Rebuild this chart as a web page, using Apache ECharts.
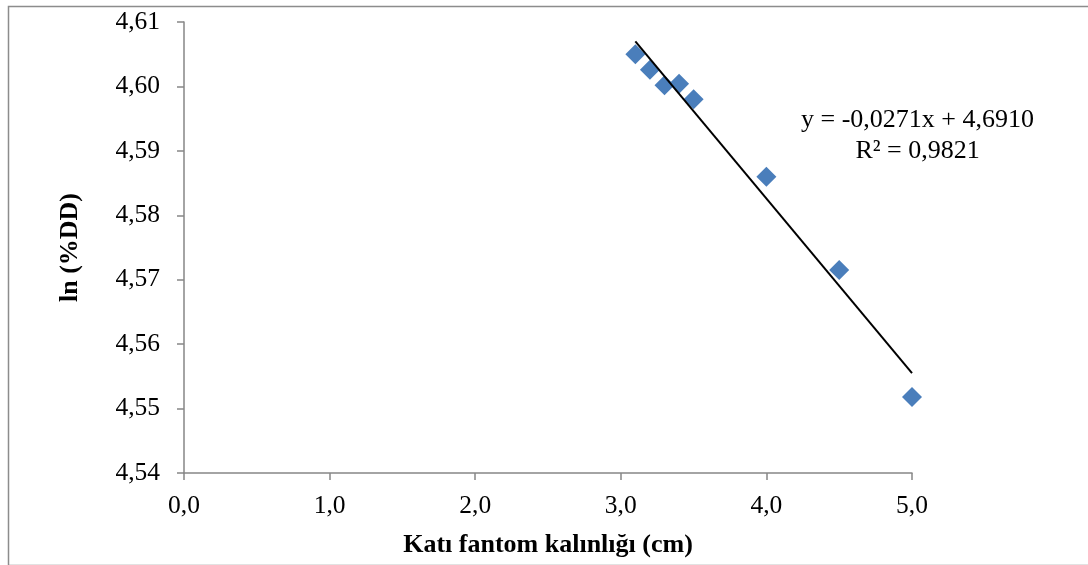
<!DOCTYPE html>
<html>
<head>
<meta charset="utf-8">
<script src="https://cdn.jsdelivr.net/npm/echarts@6/dist/echarts.min.js"></script>
<style>
html,body{margin:0;padding:0;background:#fff;}
#c{width:1088px;height:565px;}
</style>
</head>
<body>
<div id="c"></div>
<script>
const xValues = [3.1, 3.2, 3.3, 3.4, 3.5, 4.0, 4.5, 5.0];
const yValues = [4.6050, 4.6026, 4.6002, 4.6004, 4.5980, 4.5860, 4.5715, 4.5518];
const trendSlope = -0.0271;
const trendIntercept = 4.6910;
const trendRange = [3.1, 5.0];
const equationText = ['y = -0,0271x + 4,6910', 'R² = 0,9821'];
const xTitle = 'Katı fantom kalınlığı (cm)';
const yTitle = 'ln (%DD)';

const points = xValues.map((x, i) => [x, yValues[i]]);
const trend = trendRange.map(x => [x, trendSlope * x + trendIntercept]);

const chart = echarts.init(document.getElementById('c'), null, {renderer: 'canvas'});
const font = '"Liberation Serif", "Times New Roman", serif';
const axisColor = '#868686';

const border = {
  type: 'rect',
  left: 6, top: 4,
  shape: {x: 0, y: 0, width: 1100, height: 559},
  style: {fill: 'none', stroke: '#8c8c8c', lineWidth: 1.5},
  silent: true
};

chart.setOption({
  animation: false,
  backgroundColor: '#fff',
  graphic: [border],
  grid: {left: 184, top: 22, right: 176, bottom: 92, containLabel: false},
  xAxis: {
    type: 'value', min: 0, max: 5, interval: 1,
    name: xTitle, nameLocation: 'middle', nameGap: 59,
    nameTextStyle: {fontFamily: font, fontSize: 26, fontWeight: 'bold', color: '#000'},
    axisLine: {show: true, onZero: false, lineStyle: {color: axisColor, width: 1.5}},
    axisTick: {show: true, length: 7, lineStyle: {color: axisColor, width: 1.5}},
    axisLabel: {fontFamily: font, fontSize: 25.5, color: '#000', margin: 20,
      formatter: v => v.toFixed(1).replace('.', ',')},
    splitLine: {show: false}
  },
  yAxis: {
    type: 'value', min: 4.54, max: 4.61, interval: 0.01,
    name: yTitle, nameLocation: 'middle', nameGap: 101, nameRotate: 90,
    nameTextStyle: {fontFamily: font, fontSize: 26, fontWeight: 'bold', color: '#000'},
    axisLine: {show: true, lineStyle: {color: axisColor, width: 1.5}},
    axisTick: {show: true, length: 7, lineStyle: {color: axisColor, width: 1.5}},
    axisLabel: {fontFamily: font, fontSize: 25.5, color: '#000', margin: 24,
      formatter: v => v.toFixed(2).replace('.', ',')},
    splitLine: {show: false}
  },
  series: [
    {
      type: 'line', data: trend, symbol: 'none',
      lineStyle: {color: '#000', width: 2}, z: 3, silent: true
    },
    {
      type: 'scatter', data: points, symbol: 'diamond', symbolSize: [20, 20],
      itemStyle: {color: '#4a7ebb', opacity: 1}, z: 2
    }
  ]
});

const p = chart.convertToPixel({gridIndex: 0}, [5.038, 4.5924]);
chart.setOption({
  graphic: [border, {
    type: 'text',
    x: p[0], y: p[1],
    style: {
      text: equationText.join('\n'),
      font: '26px ' + font,
      fill: '#000',
      align: 'center',
      verticalAlign: 'middle',
      lineHeight: 31
    }
  }]
});
</script>
</body>
</html>
